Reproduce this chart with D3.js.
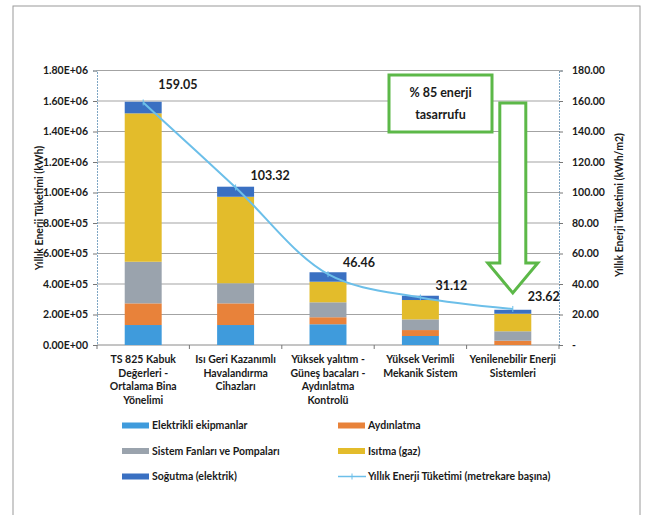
<!DOCTYPE html>
<html>
<head>
<meta charset="utf-8">
<script src="https://cdn.jsdelivr.net/npm/d3@7"></script>
<style>
  body { margin: 0; background: #fff; }
  svg text { font-family: Lato, "Open Sans", sans-serif; font-weight: bold; fill: #1a1a1a; }
</style>
</head>
<body>
<svg id="chart" width="648" height="515"></svg>
<script>
// kategori etiketleri (satir satir)
var categories = [
  ["TS 825 Kabuk", "Değerleri -", "Ortalama Bina", "Yönelimi"],
  ["Isı Geri Kazanımlı", "Havalandırma", "Cihazları"],
  ["Yüksek yalıtım -", "Güneş bacaları -", "Aydınlatma", "Kontrolü"],
  ["Yüksek Verimli", "Mekanik Sistem"],
  ["Yenilenebilir Enerji", "Sistemleri"]
];

// kWh - yigilmis sutunlar
var elektrikli = [131000, 131000, 136000, 59000, 0];
var aydinlatma = [142000, 142000, 46000, 39000, 28000];
var fanlar     = [273000, 132000, 98000, 70000, 62000];
var isitma     = [973000, 567000, 135000, 127000, 115000];
var sogutma    = [76000, 66000, 62000, 28000, 26000];

// kWh/m2 - cizgi
var yillik = [159.05, 103.32, 46.46, 31.12, 23.62];

var leftTicks = [0, 200000, 400000, 600000, 800000, 1000000, 1200000, 1400000, 1600000, 1800000];
var rightTicks = [0, 20, 40, 60, 80, 100, 120, 140, 160, 180];

var seriesNames = ["Elektrikli ekipmanlar", "Aydınlatma", "Sistem Fanları ve Pompaları", "Isıtma (gaz)", "Soğutma (elektrik)"];
var seriesData = [elektrikli, aydinlatma, fanlar, isitma, sogutma];
var colors = ["#3f9bdc", "#e8823a", "#9aa3ad", "#e3bc2b", "#3a70c2"];
var lineName = "Yıllık Enerji Tüketimi (metrekare başına)";
var lineColor = "#6cbfe9";

var svg = d3.select("#chart");

// cerceve
svg.append("rect").attr("x", 13).attr("y", 6).attr("width", 627).attr("height", 520)
  .attr("fill", "none").attr("stroke", "#9a9a9a").attr("stroke-width", 1);

var pLeft = 97, pRight = 559, pTop = 70.5, pBottom = 345;

var x = d3.scaleBand().domain(d3.range(categories.length)).range([pLeft, pRight])
  .paddingInner(0.6).paddingOuter(0.3);
var y = d3.scaleLinear().domain([0, 1800000]).range([pBottom, pTop]);
var y2 = d3.scaleLinear().domain([0, 180]).range([pBottom, pTop]);

// grid
svg.append("g").selectAll("line").data(leftTicks.slice(1)).enter().append("line")
  .attr("x1", pLeft).attr("x2", pRight)
  .attr("y1", function(d){ return y(d); }).attr("y2", function(d){ return y(d); })
  .attr("stroke", "#a3a3a3").attr("stroke-width", 1);

// eksenler
var axL = svg.append("g").attr("transform", "translate(" + pLeft + ",0)")
  .call(d3.axisLeft(y).tickValues(leftTicks).tickSize(4).tickPadding(5)
    .tickFormat(function(d){ return d3.format(".2e")(d).replace("e", "E").replace(/E([+-])(\d)$/, "E$10$2"); }));
var axR = svg.append("g").attr("transform", "translate(" + pRight + ",0)")
  .call(d3.axisRight(y2).tickValues(rightTicks).tickSize(4).tickPadding(9)
    .tickFormat(function(d){ return d === 0 ? "-" : d3.format(".2f")(d); }));
[axL, axR].forEach(function(a){
  a.select(".domain").attr("stroke", "#7ea6c4").attr("stroke-dasharray", "2,1");
  a.selectAll(".tick line").attr("stroke", "#777");
  a.selectAll("text").style("font-size", "10.5px").attr("fill", "#1a1a1a");
});
axR.selectAll(".tick text").attr("text-anchor", "start");

// x ekseni
svg.append("line").attr("x1", pLeft).attr("x2", pRight).attr("y1", pBottom).attr("y2", pBottom)
  .attr("stroke", "#8a8a8a");
svg.append("g").selectAll("line").data(d3.range(categories.length + 1)).enter().append("line")
  .attr("x1", function(i){ return pLeft + (pRight - pLeft) * i / categories.length; })
  .attr("x2", function(i){ return pLeft + (pRight - pLeft) * i / categories.length; })
  .attr("y1", pBottom).attr("y2", pBottom + 4).attr("stroke", "#777");

var catG = svg.append("g").selectAll("text").data(categories).enter().append("text")
  .attr("text-anchor", "middle").style("font-size", "10.5px")
  .attr("transform", function(d, i){ return "translate(" + (x(i) + x.bandwidth() / 2) + "," + 363 + ")"; });
catG.selectAll("tspan").data(function(d){ return d; }).enter().append("tspan")
  .attr("x", 0).attr("dy", function(d, j){ return j === 0 ? 0 : 13.5; })
  .text(function(d){ return d; });

// sutunlar
var stackInput = categories.map(function(c, i){
  var o = {};
  seriesData.forEach(function(s, k){ o[k] = s[i]; });
  return o;
});
var stacked = d3.stack().keys(d3.range(seriesData.length))(stackInput);
svg.append("g").selectAll("g").data(stacked).enter().append("g")
  .attr("fill", function(d, k){ return colors[k]; })
  .selectAll("rect").data(function(d){ return d; }).enter().append("rect")
  .attr("x", function(d, i){ return x(i); })
  .attr("width", x.bandwidth())
  .attr("y", function(d){ return y(d[1]); })
  .attr("height", function(d){ return y(d[0]) - y(d[1]); });

// cizgi
var line = d3.line()
  .x(function(d, i){ return x(i) + x.bandwidth() / 2; })
  .y(function(d){ return y2(d); })
  .curve(d3.curveCatmullRom.alpha(0.5));
svg.append("path").datum(yillik).attr("d", line)
  .attr("fill", "none").attr("stroke", lineColor).attr("stroke-width", 2);
svg.append("g").selectAll("line").data(yillik).enter().append("line")
  .attr("x1", function(d, i){ return x(i) + x.bandwidth() / 2; })
  .attr("x2", function(d, i){ return x(i) + x.bandwidth() / 2; })
  .attr("y1", function(d){ return y2(d) - 3; }).attr("y2", function(d){ return y2(d) + 3; })
  .attr("stroke", lineColor).attr("stroke-width", 1);

svg.append("g").selectAll("text").data(yillik).enter().append("text")
  .attr("x", function(d, i){ return x(i) + x.bandwidth() / 2 + 15; })
  .attr("y", function(d, i){ return y2(d) - (i === 0 ? 18 : 12); })
  .attr("dy", "0.35em").style("font-size", "12.5px")
  .text(function(d){ return d3.format(".2f")(d); });

// eksen basliklari
svg.append("text").attr("transform", "translate(39,208) rotate(-90)")
  .attr("text-anchor", "middle").attr("dy", "0.35em").style("font-size", "10.5px")
  .text("Yıllık Enerji Tüketimi (kWh)");
svg.append("text").attr("transform", "translate(619,205) rotate(-90)")
  .attr("text-anchor", "middle").attr("dy", "0.35em").style("font-size", "10.5px")
  .text("Yıllık Enerji Tüketimi (kWh/m2)");

// tasarruf kutusu ve ok
var green = "#5cb848";
svg.append("rect").attr("x", 389).attr("y", 75).attr("width", 103).attr("height", 57)
  .attr("fill", "#fff").attr("stroke", green).attr("stroke-width", 3);
svg.append("text").attr("x", 440.5).attr("y", 93).attr("dy", "0.35em").attr("text-anchor", "middle")
  .style("font-size", "12.5px").text("% 85 enerji");
svg.append("text").attr("x", 440.5).attr("y", 115).attr("dy", "0.35em").attr("text-anchor", "middle")
  .style("font-size", "12.5px").text("tasarrufu");
var ax = x(4) + x.bandwidth() / 2;
var arrowPts = [[ax - 13, 103], [ax + 13, 103], [ax + 13, 263], [ax + 25, 263], [ax, 293],
  [ax - 25, 263], [ax - 13, 263]];
svg.append("polygon").attr("points", arrowPts.map(function(p){ return p.join(","); }).join(" "))
  .attr("fill", "#fff").attr("stroke", green).attr("stroke-width", 3).attr("stroke-linejoin", "miter");

// lejant
var legendItems = [
  { name: seriesNames[0], color: colors[0], col: 0, row: 0 },
  { name: seriesNames[1], color: colors[1], col: 1, row: 0 },
  { name: seriesNames[2], color: colors[2], col: 0, row: 1 },
  { name: seriesNames[3], color: colors[3], col: 1, row: 1 },
  { name: seriesNames[4], color: colors[4], col: 0, row: 2 },
  { name: lineName, color: lineColor, col: 1, row: 2, line: true }
];
var lg = svg.append("g").selectAll("g").data(legendItems).enter().append("g")
  .attr("transform", function(d){ return "translate(" + (d.col ? 338 : 122) + "," + (425.5 + d.row * 25.5) + ")"; });
lg.each(function(d){
  var g = d3.select(this);
  if (d.line) {
    g.append("line").attr("x1", 0).attr("x2", 28).attr("y1", 0).attr("y2", 0)
      .attr("stroke", d.color).attr("stroke-width", 1.5);
    g.append("line").attr("x1", 14).attr("x2", 14).attr("y1", -3).attr("y2", 3)
      .attr("stroke", d.color).attr("stroke-width", 1);
  } else {
    g.append("rect").attr("x", 0).attr("y", -3).attr("width", 27).attr("height", 6).attr("fill", d.color);
  }
  g.append("text").attr("x", 30).attr("dy", "0.35em").style("font-size", "10.5px").text(d.name);
});
</script>
</body>
</html>
